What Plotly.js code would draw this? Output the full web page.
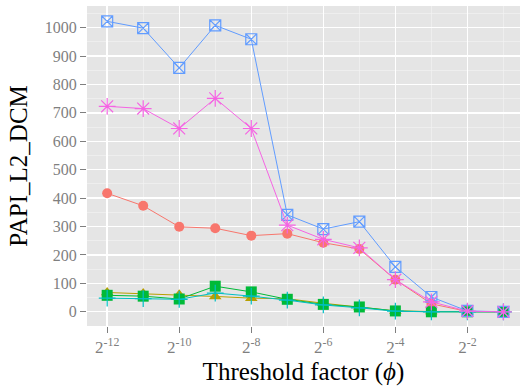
<!DOCTYPE html>
<html>
<head>
<meta charset="utf-8">
<script src="https://cdn.plot.ly/plotly-3.0.1.min.js"></script>
<style>html,body{margin:0;padding:0;background:#fff;}#chart{width:520px;height:391px;}</style>
</head>
<body>
<div id="chart"></div>
<script>
// Threshold factor exponents (x = 2^exp)
const exponents = [-12, -11, -10, -9, -8, -7, -6, -5, -4, -3, -2, -1];
const tickExps = [-12, -10, -8, -6, -4, -2];
const tickLabels = ["2<sup>-12</sup>", "2<sup>-10</sup>", "2<sup>-8</sup>", "2<sup>-6</sup>", "2<sup>-4</sup>", "2<sup>-2</sup>"];
const minorExps = [-11, -9, -7, -5, -3, -1];

const seriesRed     = [417, 373, 299, 294, 268, 275, 243, 221, 113, 28, 1, 0];
const seriesGold    = [68, 64, 60, 54, 48, 46, 30, 17, 3, 1, 0, 0];
const seriesGreen   = [58, 55, 45, 90, 70, 44, 26, 17, 3, 0, 0, 0];
const seriesCyan    = [48, 46, 44, 66, 55, 41, 24, 14, 2, 0, 0, 0];
const seriesBlue    = [1022, 998, 858, 1008, 959, 341, 291, 317, 158, 52, 3, 0];
const seriesMagenta = [723, 715, 645, 751, 645, 305, 255, 225, 113, 35, 2, 0];

function tr(y, color, symbol, size, open) {
  return {
    x: exponents, y: y, type: 'scatter', mode: 'lines+markers',
    line: {color: color, width: 1},
    marker: open ? {symbol: symbol, size: size, color: color, line: {color: color, width: 1.2}}
                 : {symbol: symbol, size: size, color: color, line: {width: 0}},
    showlegend: false, hoverinfo: 'skip'
  };
}

const data = [
  tr(seriesRed, '#F8766D', 'circle', 10, false),
  tr(seriesGold, '#B79F00', 'triangle-up', 11, false),
  tr(seriesGreen, '#00BA38', 'square', 11, false),
  tr(seriesCyan, '#00BFC4', 'cross-thin-open', 12, true),
  tr(seriesBlue, '#619CFF', 'square-x-open', 11, true),
  tr(seriesMagenta, '#F564E3', 'asterisk-open', 14, true)
];

const font = "'Liberation Serif', 'DejaVu Serif', serif";
const layout = {
  width: 520, height: 391,
  margin: {l: 87, r: 0, t: 6, b: 65},
  paper_bgcolor: '#ffffff',
  plot_bgcolor: '#E5E5E5',
  font: {family: font},
  xaxis: {
    range: [-12.56, -0.54],
    tickmode: 'array', tickvals: tickExps, ticktext: tickLabels,
    showgrid: true, gridcolor: '#ffffff', gridwidth: 1.4,
    zeroline: false, showline: false,
    ticks: 'outside', ticklen: 6, tickwidth: 1, tickcolor: '#7f7f7f',
    tickfont: {family: font, size: 17, color: '#7f7f7f'},
    minor: {tickmode: 'array', tickvals: minorExps, showgrid: true, gridcolor: '#F2F2F2', gridwidth: 0.7, ticks: ''},
    title: {text: 'Threshold factor (<i>ϕ</i>)', font: {family: font, size: 25, color: '#000'}, standoff: 6}
  },
  yaxis: {
    range: [-50, 1076],
    tickmode: 'array', tickvals: [0,100,200,300,400,500,600,700,800,900,1000],
    showgrid: true, gridcolor: '#ffffff', gridwidth: 1.4,
    zeroline: false, showline: false,
    ticks: 'outside', ticklen: 6, tickwidth: 1, tickcolor: '#7f7f7f',
    tickfont: {family: font, size: 16, color: '#7f7f7f'},
    minor: {tickmode: 'array', tickvals: [-50,50,150,250,350,450,550,650,750,850,950,1050], showgrid: true, gridcolor: '#F2F2F2', gridwidth: 0.7, ticks: ''},
    title: {text: 'PAPI_L2_DCM', font: {family: font, size: 25, color: '#000'}, standoff: 10}
  }
};

Plotly.newPlot('chart', data, layout, {displayModeBar: false, staticPlot: true});
</script>
</body>
</html>
